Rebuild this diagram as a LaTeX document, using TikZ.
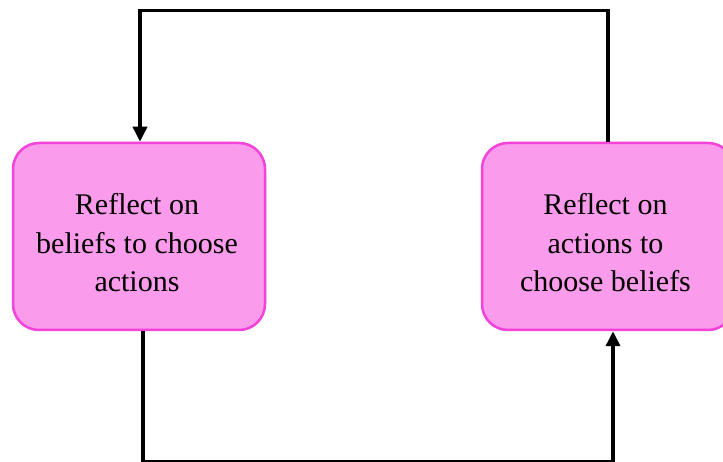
\documentclass[tikz,border=0pt]{standalone}
\usepackage{fontspec}
\setmainfont{Liberation Serif}
\usetikzlibrary{arrows.meta}
\definecolor{boxfill}{RGB}{250,155,235}
\definecolor{boxedge}{RGB}{244,66,218}
\begin{document}
\begin{tikzpicture}[x=1pt,y=-1pt,
  reflectbox/.style={draw=boxedge, fill=boxfill, line width=2.5pt,
    rounded corners=26pt, minimum width=252pt, minimum height=187pt,
    inner sep=0pt},
  boxtext/.style={align=center, inner sep=0pt,
    font=\fontsize{30}{38.5}\selectfont},
  loopline/.style={line width=3.5pt, draw=black},
  looparrow/.style={loopline, -{Triangle[length=15pt,width=14pt]}}]
  \clip (0,0) rectangle (723,462);
  \fill[white] (0,0) rectangle (723,462);

  \node[reflectbox] (lbox) at (139,236.5) {};
  \node[reflectbox] (rbox) at (608,236.5) {};
  \node[boxtext] (ltext) at (137,243) {Reflect on\\beliefs to choose\\actions};
  \node[boxtext] (rtext) at (605.5,243) {Reflect on\\actions to\\choose beliefs};

  % upper return path: right box back to the left box
  \coordinate (topturn) at (608,10.5);
  \draw[looparrow] (rbox.north) |- (topturn) -| ([xshift=1pt]lbox.north);

  % lower path: left box forward to the right box
  \coordinate (bottomturn) at (143,461.5);
  \draw[looparrow] ([xshift=4pt]lbox.south) |- (bottomturn) -| ([xshift=5pt]rbox.south);
\end{tikzpicture}
\end{document}
